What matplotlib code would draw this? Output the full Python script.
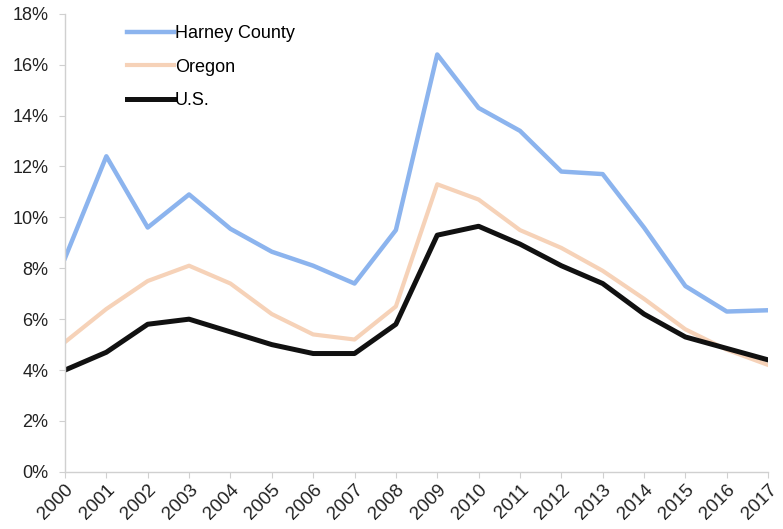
import numpy as np
import matplotlib.pyplot as plt
from matplotlib.ticker import FuncFormatter

plt.rcParams.update({'font.family': 'Liberation Sans',
                     'font.size': 13})

years = np.arange(2000, 2018)
harney = [8.4, 12.4, 9.6, 10.9, 9.55, 8.65, 8.1, 7.4, 9.5, 16.4,
          14.3, 13.4, 11.8, 11.7, 9.6, 7.3, 6.3, 6.35]
oregon = [5.1, 6.4, 7.5, 8.1, 7.4, 6.2, 5.4, 5.2, 6.5, 11.3,
          10.7, 9.5, 8.8, 7.9, 6.8, 5.6, 4.8, 4.2]
us = [4.0, 4.7, 5.8, 6.0, 5.5, 5.0, 4.65, 4.65, 5.8, 9.3,
      9.65, 8.95, 8.1, 7.4, 6.2, 5.3, 4.85, 4.4]

fig = plt.figure(figsize=(7.83, 5.29), dpi=100)
ax = fig.add_axes([0.083, 0.108, 0.898, 0.866])

ax.plot(years, harney, color="#8CB4EE", lw=3.2, label="Harney County")
ax.plot(years, oregon, color="#F6D2B8", lw=3.0, label="Oregon")
ax.plot(years, us, color="#111111", lw=3.6, label="U.S.")

ax.set_xlim(2000, 2017)
ax.set_ylim(0, 18)
ax.set_yticks(np.arange(0, 19, 2))
ax.yaxis.set_major_formatter(FuncFormatter(lambda v, p: f"{v:.0f}%"))
ax.set_xticks(years)
ax.set_xticklabels([str(y) for y in years], rotation=45, ha="right",
                   rotation_mode="anchor", fontsize=13.5)

for s in ["top", "right"]:
    ax.spines[s].set_visible(False)
for s in ["left", "bottom"]:
    ax.spines[s].set_color("#d0d0d0")
    ax.spines[s].set_linewidth(1)
ax.tick_params(axis="both", color="#d0d0d0", length=4, labelcolor="#222222")
ax.tick_params(axis="y", pad=8)
ax.tick_params(axis="x", pad=3)

ax.legend(loc="upper left", bbox_to_anchor=(0.065, 1.01), frameon=False,
          handlelength=2.6, handletextpad=0.05, labelspacing=0.9)

plt.savefig("out.png", dpi=100)
